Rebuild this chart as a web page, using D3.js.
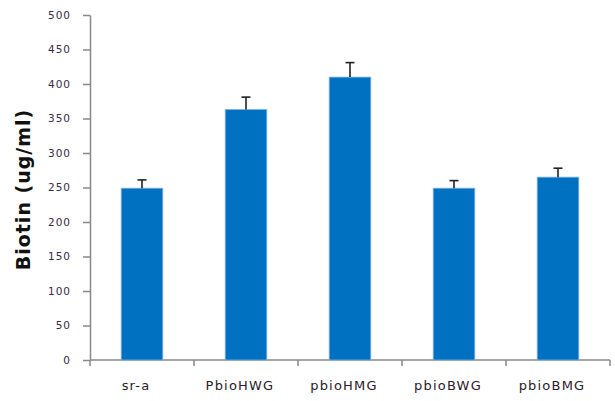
<!DOCTYPE html>
<html>
<head>
<meta charset="utf-8">
<script src="https://cdn.jsdelivr.net/npm/d3@7"></script>
<style>
  html, body { margin: 0; padding: 0; background: #fff; }
  svg { display: block; }
</style>
</head>
<body>
<svg id="chart" width="615" height="401"></svg>
<script>
// Biotin production per strain, with error bars
const categories = ["sr-a", "PbioHWG", "pbioHMG", "pbioBWG", "pbioBMG"];
const values = [249, 363, 410, 249, 265];
const errors = [12, 18, 21, 11, 13];
const yTicks = [0, 50, 100, 150, 200, 250, 300, 350, 400, 450, 500];

const svg = d3.select("#chart");
const margin = { left: 90, right: 5, top: 15, bottom: 41 };
const width = 615, height = 401;

const x = d3.scaleBand()
  .domain(categories)
  .range([margin.left, width - margin.right])
  .paddingInner(0.6)
  .paddingOuter(0.3);

const y = d3.scaleLinear()
  .domain([0, 500])
  .range([height - margin.bottom, margin.top]);

const font = "'Comic Sans MS', 'DejaVu Sans', sans-serif";

// y axis
const yAxis = svg.append("g")
  .attr("transform", `translate(${margin.left},0)`)
  .call(d3.axisLeft(y).tickValues(yTicks).tickSize(7).tickPadding(12).tickSizeOuter(0));
yAxis.select(".domain").attr("stroke", "#888").attr("stroke-width", 1.5);
yAxis.selectAll(".tick line").attr("stroke", "#888").attr("stroke-width", 1.5);
yAxis.selectAll(".tick text")
  .attr("font-family", font).attr("font-size", 10.5).attr("letter-spacing", 1)
  .attr("fill", "#3a2a4a");

// x axis with ticks between categories
const xAxisY = y(0);
const step = x.step();
const boundaries = d3.range(categories.length + 1).map(i => x.range()[0] + i * step);
const xg = svg.append("g");
xg.append("line")
  .attr("x1", margin.left).attr("x2", width - margin.right)
  .attr("y1", xAxisY).attr("y2", xAxisY)
  .attr("stroke", "#888").attr("stroke-width", 1.5);
xg.selectAll("line.tk").data(boundaries).join("line")
  .attr("class", "tk")
  .attr("x1", d => d).attr("x2", d => d)
  .attr("y1", xAxisY).attr("y2", xAxisY + 6)
  .attr("stroke", "#888").attr("stroke-width", 1.5);
xg.selectAll("text").data(categories).join("text")
  .attr("x", d => x(d) + x.bandwidth() / 2 - 6)
  .attr("y", xAxisY + 30)
  .attr("text-anchor", "middle")
  .attr("font-family", font).attr("font-size", 13).attr("letter-spacing", 1.2)
  .attr("fill", "#2a1a2a")
  .text(d => d);

// bars
const data = categories.map((c, i) => ({ c, v: values[i], e: errors[i] }));
svg.append("g").selectAll("rect").data(data).join("rect")
  .attr("x", d => x(d.c))
  .attr("y", d => y(d.v))
  .attr("width", x.bandwidth())
  .attr("height", d => y(0) - y(d.v))
  .attr("fill", "#0070c0")
  .attr("stroke", "#7fb2e0")
  .attr("stroke-width", 0.8);

// error bars (upper only)
const eg = svg.append("g").attr("stroke", "#222").attr("stroke-width", 1.6);
data.forEach(d => {
  const cx = x(d.c) + x.bandwidth() / 2;
  eg.append("line").attr("x1", cx).attr("x2", cx).attr("y1", y(d.v)).attr("y2", y(d.v + d.e));
  eg.append("line").attr("x1", cx - 4.5).attr("x2", cx + 4.5).attr("y1", y(d.v + d.e)).attr("y2", y(d.v + d.e));
});

// y axis title
svg.append("text")
  .attr("transform", `translate(30,${(y(0) + y(500)) / 2 + 2}) rotate(-90)`)
  .attr("text-anchor", "middle")
  .attr("font-family", font).attr("font-size", 19).attr("font-weight", "bold")
  .attr("letter-spacing", 1)
  .attr("fill", "#111")
  .text("Biotin (ug/ml)");
</script>
</body>
</html>
